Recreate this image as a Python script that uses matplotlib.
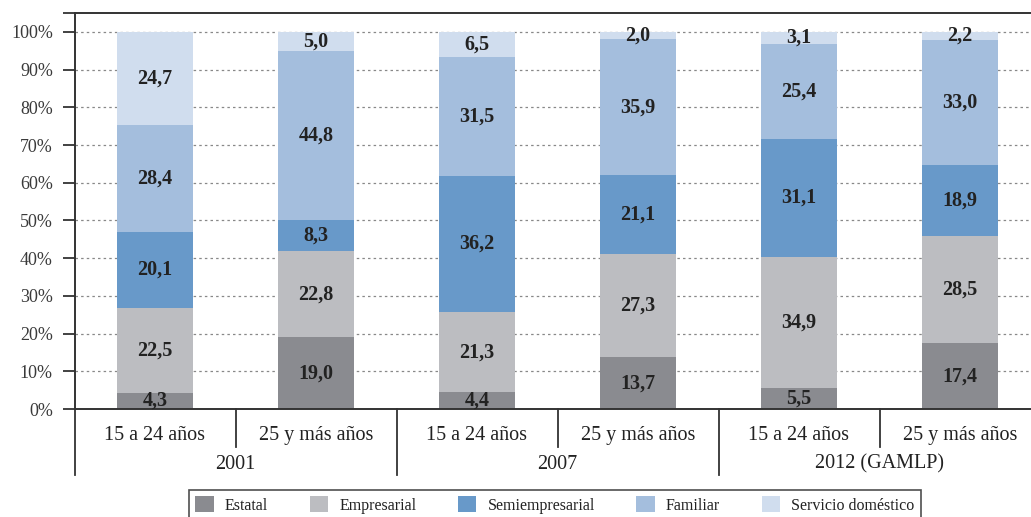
import matplotlib.pyplot as plt
import numpy as np

plt.rcParams['font.family'] = ['Liberation Serif', 'DejaVu Serif']

# stacked shares by sector (%), one value per bar
groups = ["15 a 24 años", "25 y más años"] * 3
years = ["2001", "2007", "2012 (GAMLP)"]
sectors = ["Estatal", "Empresarial", "Semiempresarial", "Familiar", "Servicio doméstico"]
estatal = [4.3, 19.0, 4.4, 13.7, 5.5, 17.4]
empresarial = [22.5, 22.8, 21.3, 27.3, 34.9, 28.5]
semiempresarial = [20.1, 8.3, 36.2, 21.1, 31.1, 18.9]
familiar = [28.4, 44.8, 31.5, 35.9, 25.4, 33.0]
domestico = [24.7, 5.0, 6.5, 2.0, 3.1, 2.2]
COLORS = ["#8a8b90", "#bcbdc1", "#6899c9", "#a4bedd", "#d0ddee"]

TEXT = "#222222"
AXIS = "#333333"

fig = plt.figure(figsize=(10.31, 5.17), dpi=100)
ax = fig.add_axes([74.5 / 1031, 108 / 517, 966 / 1031, 396 / 517])

x = np.arange(len(groups))
series = [estatal, empresarial, semiempresarial, familiar, domestico]
bottom = np.zeros(len(groups))
for name, vals, col in zip(sectors, series, COLORS):
    vals = np.array(vals)
    ax.bar(x, vals, width=0.47, bottom=bottom, color=col, label=name, zorder=2)
    for xi, b, v in zip(x, bottom, vals):
        ax.text(xi, b + v / 2, f"{v:.1f}".replace(".", ","), ha="center", va="center",
                fontsize=14.5, fontweight="bold", color=TEXT, zorder=3)
    bottom += vals

ax.set_xlim(-0.5, 5.5)
ax.set_ylim(0, 105)
ax.set_yticks(range(0, 101, 10))
ax.set_yticklabels([f"{v}%" for v in range(0, 101, 10)], fontsize=13, color="#3a3a3a")
ax.set_yticks([105], minor=True)
ax.tick_params(axis="y", which="both", length=8.6, width=1.3, color=AXIS, pad=7)
ax.set_xticks([])
ax.yaxis.grid(True, linestyle=(0, (2, 2.5)), color="#888888", linewidth=0.9, zorder=0)
ax.set_axisbelow(True)

for side in ["left", "top", "bottom"]:
    ax.spines[side].set_color(AXIS)
    ax.spines[side].set_linewidth(1.4)
ax.spines["right"].set_visible(False)

# two-level category axis: age groups then survey years
trans = ax.get_xaxis_transform()
for xi, g in zip(x, groups):
    ax.text(xi, -0.068, g, transform=trans, ha="center", va="center", fontsize=14.5, color=TEXT)
for i, yr in enumerate(years):
    ax.text(2 * i + 0.5, -0.139, yr, transform=trans, ha="center", va="center", fontsize=14.5, color=TEXT)
for xs in [0.5, 2.5, 4.5]:
    ax.plot([xs, xs], [0, -0.096], transform=trans, color=AXIS, lw=1.3, clip_on=False)
for xs in [-0.5, 1.5, 3.5]:
    ax.plot([xs, xs], [0, -0.167], transform=trans, color=AXIS, lw=1.3, clip_on=False)

leg = fig.legend(loc="upper center", bbox_to_anchor=(555 / 1031, 1 - 482 / 517), ncol=5,
                 fontsize=11.5, frameon=True, fancybox=False, edgecolor="#222222",
                 handlelength=1.15, handleheight=1.15, columnspacing=2.6, handletextpad=0.7,
                 borderpad=0.4, labelcolor=TEXT)
leg.get_frame().set_linewidth(1.2)

fig.savefig("out.png", dpi=100)
